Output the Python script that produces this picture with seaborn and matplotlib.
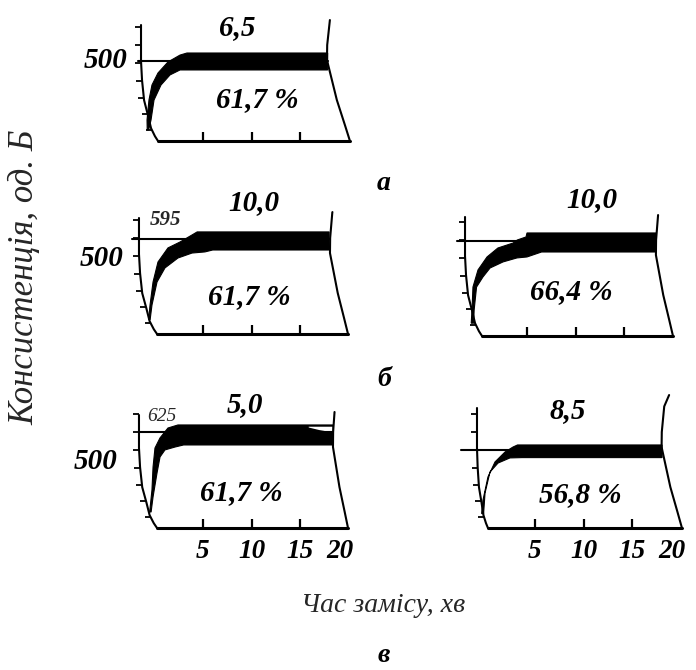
import matplotlib
matplotlib.use("Agg")
import matplotlib.pyplot as plt
import numpy as np
import seaborn as sns

# ---- дані, зчитані з фаринограм (x - хв, y - од. Б) ----
stability = ["6,5", "10,0", "10,0", "5,0", "8,5"]
water = ["61,7 %", "61,7 %", "66,4 %", "61,7 %", "56,8 %"]
line_level = [500, 595, 595, 600, 490]
line_start = [-1.7, -2.3, -2.2, -1.5, -2.6]
line_note = [None, "595", None, "625", None]
tick_pos = [5, 10, 15]
tick_labels = ["5", "10", "15", "20"]
arc_ticks = [70, 170, 270, 375, 485, 600, 715]

# форма дуг пера (частка від максимального відхилення)
left_arc_h = [0, 30, 80, 160, 255, 380, 500, 760]
left_arc_s = [0, 0.18, 0.41, 0.59, 0.82, 0.94, 1.0, 1.0]
right_arc_h = [0, 100, 256, 506, 600, 760, 840]
right_arc_s = [0, 0.22, 0.57, 1.0, 0.99, 0.87, 0.6]

left_base = [0.36, 0.26, 0.36, 0.26, 0.15]
left_bend = [1.75, 1.86, 1.75, 1.86, 1.13]
left_top = [725, 725, 744, 706, 750]
right_base = [20.15, 19.95, 20.05, 19.95, 20.15]
right_bend = [2.37, 1.86, 1.76, 1.55, 2.1]
right_top = [756, 762, 756, 725, 831]

# смуга кривої: верхній (лівий) і нижній (правий) край
a_up_t = [-0.75, -0.77, -0.57, -0.26, 0.36, 1.39, 2.63, 3.35, 17.85]
a_up_v = [70, 131, 256, 350, 425, 494, 537, 550, 550]
a_lo_t = [-0.6, -0.36, -0.05, 0.67, 1.6, 2.63, 3.35, 17.85]
a_lo_v = [70, 131, 256, 350, 413, 444, 444, 444]

b1_up_t = [-0.6, -0.46, -0.15, 0.36, 1.39, 2.63, 3.87, 4.4, 18.0]
b1_up_v = [90, 181, 325, 450, 538, 575, 619, 638, 638]
b1_lo_t = [-0.45, -0.26, 0.26, 1.08, 2.42, 3.87, 5.2, 6.0, 18.0]
b1_lo_v = [90, 181, 325, 413, 475, 506, 513, 525, 525]

b2_up_t = [-0.75, -0.67, -0.57, -0.05, 0.88, 2.0, 3.56, 4.0, 4.9, 5.0, 18.3]
b2_up_v = [80, 163, 306, 413, 494, 550, 581, 600, 619, 644, 644]
b2_lo_t = [-0.5, -0.45, -0.2, 0.46, 1.19, 2.53, 3.97, 5.0, 6.5, 18.3]
b2_lo_v = [80, 163, 306, 369, 425, 463, 488, 494, 525, 525]

c1_up_t = [-0.5, -0.26, -0.15, 0.05, 0.57, 1.39, 2.42, 18.4]
c1_up_v = [100, 238, 381, 500, 563, 625, 644, 644]
c1_lo_t = [-0.35, -0.15, 0.26, 0.57, 1.08, 2.11, 3.0, 18.4]
c1_lo_v = [100, 194, 344, 444, 488, 506, 519, 519]
c1_gap_t = [15.9, 17.0, 18.35]
c1_gap_hi = [633, 633, 633]
c1_gap_lo = [628, 612, 598]

c2_up_t = [-0.5, -0.36, 0.15, 0.88, 1.91, 2.73, 3.2, 18.1]
c2_up_v = [90, 175, 319, 413, 475, 506, 519, 519]
c2_lo_t = [-0.3, -0.15, 0.36, 1.19, 2.42, 3.66, 18.1]
c2_lo_v = [90, 219, 350, 406, 438, 440, 440]

bands = [(a_up_t, a_up_v, a_lo_t, a_lo_v),
         (b1_up_t, b1_up_v, b1_lo_t, b1_lo_v),
         (b2_up_t, b2_up_v, b2_lo_t, b2_lo_v),
         (c1_up_t, c1_up_v, c1_lo_t, c1_lo_v),
         (c2_up_t, c2_up_v, c2_lo_t, c2_lo_v)]

# ---- розмітка ----
sns.set_theme(style="white")
plt.rcParams["font.family"] = ["Liberation Serif", "DejaVu Serif"]

W, H = 696, 670
PX_MIN, PX_BU = 9.7, 0.16
XLIM, YLIM = (-4, 22), (-30, 860)
# положення нуля (x, y) кожної фаринограми в пікселях
origins = [(154.5, 141), (154.5, 334), (478.5, 336), (154.5, 528), (486.5, 528)]
top_xy = [(8.5, 712), (10.2, 819), (11.7, 850), (9.3, 769), (8.4, 737)]
water_xy = [(10.6, 256), (9.8, 231), (9.6, 275), (9.0, 219), (9.7, 206)]
label500 = [(-2.8, 506), (-3.2, 475), None, (-3.8, 413), None]
note_xy = [None, (-0.45, 712), None, (-0.8, 694), None]
bold = dict(fontsize=21, fontweight="bold", fontstyle="italic", color="black")

fig = plt.figure(figsize=(W / 100, H / 100), dpi=100)
aw = (XLIM[1] - XLIM[0]) * PX_MIN
ah = (YLIM[1] - YLIM[0]) * PX_BU

for i, (x0, y0) in enumerate(origins):
    left = x0 + XLIM[0] * PX_MIN
    bottom = y0 - YLIM[0] * PX_BU
    ax = fig.add_axes([left / W, 1 - bottom / H, aw / W, ah / H])
    ax.set_xlim(*XLIM)
    ax.set_ylim(*YLIM)
    ax.axis("off")

    # лінія консистенції
    sns.lineplot(x=[line_start[i], bands[i][0][-1]], y=[line_level[i]] * 2,
                 ax=ax, color="black", lw=1.5, estimator=None, sort=False)

    # смуга фаринограми
    up_t, up_v, lo_t, lo_v = bands[i]
    ax.fill(list(up_t) + list(lo_t[::-1]), list(up_v) + list(lo_v[::-1]),
            color="black", lw=0.8, ec="black")
    if i == 3:
        ax.fill(c1_gap_t + c1_gap_t[::-1], c1_gap_hi + c1_gap_lo[::-1],
                color="white", lw=0)

    # ліва дуга з поділками
    hl = np.array([h for h in left_arc_h if h < left_top[i]] + [left_top[i]])
    xl = left_base[i] - left_bend[i] * np.interp(hl, left_arc_h, left_arc_s)
    sns.lineplot(x=xl, y=hl, ax=ax, color="black", lw=1.5,
                 estimator=None, sort=False)
    th = np.array([h for h in arc_ticks if h <= left_top[i] + 10])
    tx = left_base[i] - left_bend[i] * np.interp(th, left_arc_h, left_arc_s)
    ax.hlines(th, tx - 0.6, tx, color="black", lw=1.3)

    # права дуга
    hr = np.array([h for h in right_arc_h if h < right_top[i]] + [right_top[i]])
    xr = right_base[i] - right_bend[i] * np.interp(hr, right_arc_h, right_arc_s)
    sns.lineplot(x=xr, y=hr, ax=ax, color="black", lw=1.5,
                 estimator=None, sort=False)

    # вісь часу
    sns.lineplot(x=[left_base[i], right_base[i]], y=[0, 0], ax=ax,
                 color="black", lw=2.2, estimator=None, sort=False)
    ax.vlines(tick_pos, 0, 55, color="black", lw=1.6)
    if i >= 3:
        for tp, tl in zip(tick_pos + [19.1], tick_labels):
            ax.text(tp, -150, tl, ha="center", va="center",
                    **{**bold, "fontsize": 19.5})

    # підписи
    ax.text(*top_xy[i], stability[i], ha="center", va="center", **bold)
    ax.text(*water_xy[i], water[i], ha="center", va="center", **bold)
    if label500[i]:
        ax.text(*label500[i], "500", ha="right", va="center", **bold)
    if note_xy[i]:
        ax.text(*note_xy[i], line_note[i], ha="left", va="center",
                fontsize=15 if i == 1 else 14, fontstyle="italic",
                fontweight="bold" if i == 1 else "normal")

for txt, y in [("а", 183), ("б", 380), ("в", 655)]:
    fig.text(384 / W, 1 - y / H, txt, ha="center", va="center",
             **{**bold, "fontsize": 20})

fig.text(25 / W, 1 - 277 / H, "Консистенція, од. Б", rotation=90,
         ha="center", va="center", fontsize=25, fontstyle="italic")
fig.text(383 / W, 1 - 605 / H, "Час замісу, хв", ha="center", va="center",
         fontsize=20, fontstyle="italic")

fig.savefig("out.png", dpi=100, facecolor="white")
